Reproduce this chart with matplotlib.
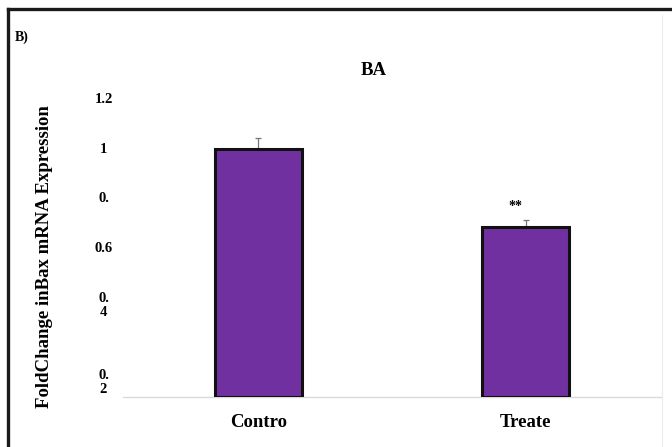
import matplotlib.pyplot as plt
from matplotlib.lines import Line2D

# Bax expression, fold change vs control
groups = ["Contro", "Treate"]
fold_change = [1.0, 0.685]
sem = [0.045, 0.03]
stars = ["", "**"]

ytick_vals = [0.2, 0.4, 0.6, 0.8, 1.0, 1.2]
ytick_text = ["0.\n2", "0.\n4", "0.6", "0.", "1", "1.2"]
ytick_shift = [-35, -8, 0, 0, 0, 0]   # pixel nudge of each label

plt.rcParams["font.family"] = ["Liberation Serif", "DejaVu Serif"]
plt.rcParams["font.weight"] = "bold"

fig = plt.figure(figsize=(6.72, 4.47), dpi=100)
ax = fig.add_axes([123 / 672, 1 - 397 / 447, (662 - 123) / 672, (397 - 100) / 447])

x = range(len(groups))
ax.bar(x, fold_change, width=0.326, color="#7030A0", edgecolor="#111111",
       linewidth=2.2, zorder=3)
ax.errorbar(x, fold_change, yerr=[[0, 0], sem], fmt="none", ecolor="#777777",
            elinewidth=0.9, capsize=2.5, capthick=0.9, zorder=2)

for xi, v, e, s in zip(x, fold_change, sem, stars):
    if s:
        ax.annotate(s, (xi, v + e), xytext=(-7, 10), textcoords="offset points",
                    ha="center", va="center", fontsize=10, fontweight="bold")

ax.set_xlim(-0.507, 1.511)
ax.set_ylim(0, 1.2)

# y tick labels drawn as text so the wrapped ones can be nudged
ax.set_yticks([])
for v, t, dy in zip(ytick_vals, ytick_text, ytick_shift):
    ax.annotate(t, (0, v), xycoords=("axes fraction", "data"),
                xytext=(-14, dy * 0.72), textcoords="offset points",
                ha="center", va="center", fontsize=10.5, fontweight="bold",
                linespacing=1.1)

ax.set_xticks(list(x), groups, fontsize=13.5, fontweight="bold")
ax.tick_params(axis="x", length=0, pad=12)

for side in ["left", "right", "top"]:
    ax.spines[side].set_visible(False)
ax.spines["bottom"].set_color("#d9d9d9")
ax.spines["bottom"].set_linewidth(1.0)

ax.set_title("BA", fontsize=13.5, fontweight="bold", pad=18, x=0.466)
fig.text(45 / 672, 1 - 257 / 447, "FoldChange inBax mRNA Expression",
         rotation=90, ha="center", va="center", fontsize=13.5, fontweight="bold")
fig.text(15 / 672, 1 - 37 / 447, "B)", ha="left", va="center",
         fontsize=10, fontweight="bold")

# panel frame: heavy left/top edge, faint chart-area edge on the right
fig.add_artist(Line2D([8 / 672, 8 / 672], [0, 1 - 9 / 447],
                      transform=fig.transFigure, color="#1a1a1a", lw=2.4))
fig.add_artist(Line2D([8 / 672, 1], [1 - 9 / 447, 1 - 9 / 447],
                      transform=fig.transFigure, color="#1a1a1a", lw=2.4))
fig.add_artist(Line2D([662 / 672, 662 / 672], [0, 1 - 15 / 447],
                      transform=fig.transFigure, color="#ececec", lw=0.8))

fig.savefig("out.png", dpi=100)
